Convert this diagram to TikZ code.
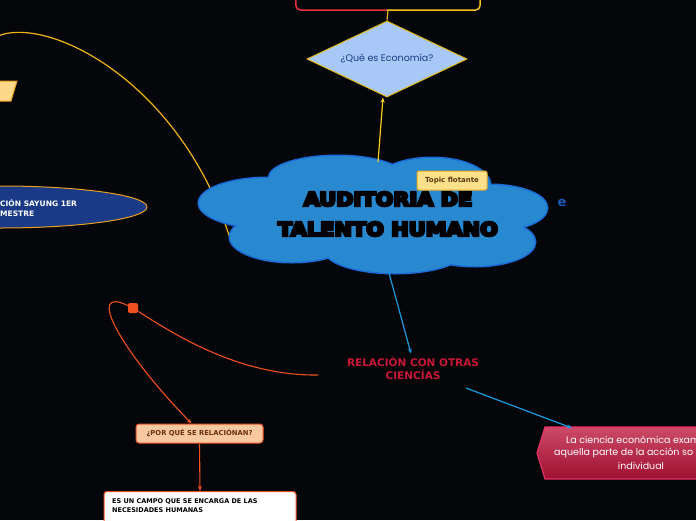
\documentclass[tikz,border=0pt]{standalone}
\usepackage{fontspec}
\setmainfont{DejaVu Sans}
\newfontfamily\geofont{Poppins}
\newfontfamily\titlefont[UprightFont=* Bold,FakeBold=12]{DejaVu Sans}
\usetikzlibrary{shapes.geometric,arrows.meta}
\definecolor{bgcol}{HTML}{050609}
\definecolor{cloudfill}{HTML}{2888D0}
\definecolor{cloudline}{HTML}{1A6AD8}
\definecolor{diafill}{HTML}{A8C8F8}
\definecolor{diaborder}{HTML}{E0B820}
\definecolor{diatext}{HTML}{1A3A8A}
\definecolor{topred}{HTML}{E83040}
\definecolor{topyellow}{HTML}{F0C020}
\definecolor{goldline}{HTML}{F0B418}
\definecolor{yellowarrow}{HTML}{F8D020}
\definecolor{semfill}{HTML}{1A3A88}
\definecolor{semborder}{HTML}{E8A020}
\definecolor{trapfill}{HTML}{FDD88A}
\definecolor{topicfill}{HTML}{FDE08A}
\definecolor{topicborder}{HTML}{E8A820}
\definecolor{topictext}{HTML}{5A3A10}
\definecolor{ecol}{HTML}{1A5AB8}
\definecolor{relcol}{HTML}{C81838}
\definecolor{bluearr}{HTML}{1A9AE0}
\definecolor{ecotop}{HTML}{CC4A68}
\definecolor{ecobot}{HTML}{A01030}
\definecolor{ecoborder}{HTML}{E83068}
\definecolor{orline}{HTML}{F05020}
\definecolor{whyfill}{HTML}{F8C8A0}
\definecolor{whytext}{HTML}{6A3010}

\begin{document}
\begin{tikzpicture}[x=1pt,y=-1pt,
  tip/.style={-{Stealth[length=5pt,width=4pt]}},
  bluearrow/.style={draw=bluearr,line width=1.2,tip},
  orarrow/.style={draw=orline,line width=1.1},
  labelfont/.style={font=\bfseries\fontsize{#1}{#1}\selectfont},
  titlestyle/.style={align=center,font=\titlefont\fontsize{19}{30}\selectfont,text=black}]
\useasboundingbox (0,0) rectangle (696,520);
\fill[bgcol] (0,0) rectangle (696,520);

\node[minimum width=184,minimum height=30,inner sep=0] (top) at (388,-5) {};
\begin{scope}
\clip (280,-40) rectangle (387,30);
\draw[topred,line width=1.5,rounded corners=5] (top.south west) rectangle (top.north east);
\end{scope}
\begin{scope}
\clip (387,-40) rectangle (500,30);
\draw[topyellow,line width=1.5,rounded corners=5] (top.south west) rectangle (top.north east);
\end{scope}

\node[diamond,aspect=2,draw=diaborder,fill=diafill,line width=1,minimum width=160,minimum height=76,inner sep=0,
  font=\geofont\fontsize{9.5}{11}\selectfont,text=diatext] (econ) at (387,59) {¿Qué es Economía?};
\draw[goldline,line width=1.2] (top.south) -- (econ.north);

\draw[goldline,line width=1.2] (-2,36) .. controls (50,15) and (185,85) .. (232,245);

\foreach \cx/\cy/\rx/\ry in {268/203/69/25,337/178/68/22,432/185/58/27,490/208/57/23,475/242/60/24,395/250/70/23,292/237/62/25,380/213/150/40}
  \draw[cloudline,line width=3] (\cx,\cy) ellipse [x radius=\rx,y radius=\ry];
\foreach \cx/\cy/\rx/\ry in {268/203/69/25,337/178/68/22,432/185/58/27,490/208/57/23,475/242/60/24,395/250/70/23,292/237/62/25,380/213/150/40}
  \fill[cloudfill] (\cx,\cy) ellipse [x radius=\rx,y radius=\ry];
\coordinate (cloudtop) at (378,162);
\coordinate (cloudbot) at (389,273);
\node[titlestyle] (auth) at (388,214) {\scalebox{1.1}[1]{AUDITORIA DE}\\\scalebox{1.1}[1]{TALENTO HUMANO}};

\draw[yellowarrow,line width=1.2,tip] (cloudtop) -- ([xshift=-4]econ.south);

\node[rounded corners=2,draw=topicborder,fill=topicfill,line width=1,minimum width=70,minimum height=19,inner sep=0,
  labelfont=7,text=topictext] (flot) at (452,180.5) {Topic flotante};
\node[labelfont=13,text=ecol] (emark) at (562,203) {e};

\node[ellipse,draw=semborder,fill=semfill,line width=1,minimum width=294,minimum height=42,inner sep=0] (sem) at (0,207) {};
\node[anchor=west,align=left,inner sep=0,font=\bfseries\fontsize{7.5}{10}\selectfont,text=white] (semtxt) at (0,208) {CIÓN SAYUNG 1ER\\MESTRE};
\filldraw[fill=trapfill,draw=semborder,line width=1] (-20,81) -- (17,81) -- (11,101) -- (-20,101) -- cycle;

\node[align=center,font=\bfseries\fontsize{10.5}{13}\selectfont,text=relcol] (rel) at (413,368.5) {RELACIÓN CON OTRAS\\CIENCÍAS};
\draw[bluearrow] (cloudbot) -- ([xshift=-2]rel.north);
\coordinate (relout) at (466,388);
\coordinate (relin) at (318,375);

\shade[top color=ecotop,bottom color=ecobot] (545,427) -- (700,427) -- (700,479) -- (545,479) -- (537,453) -- cycle;
\draw[ecoborder,line width=1.2] (700,427) -- (545,427) -- (537,453) -- (545,479) -- (700,479);
\coordinate (ecoin) at (572,428);
\draw[bluearrow] (relout) -- (ecoin);
\node[anchor=west,inner sep=0,font=\geofont\fontsize{9.5}{11}\selectfont,text=white] (eco1) at (566,440) {La ciencia económica exam};
\node[anchor=west,inner sep=0,font=\geofont\fontsize{9.5}{11}\selectfont,text=white] (eco2) at (554,453) {aquella parte de la acción so};
\node[inner sep=0,font=\geofont\fontsize{9.5}{11}\selectfont,text=white] (eco3) at (641,466) {individual};

\node[rounded corners=2,fill=orline,minimum size=10,inner sep=0] (hnd) at (133,308) {};
\node[rounded corners=3,draw=orline,fill=whyfill,line width=1,minimum width=127,minimum height=19,inner sep=0,
  labelfont=6.8,text=whytext] (why) at (199.5,433.5) {¿POR QUÉ SE RELACIÓNAN?};
\draw[orarrow] (relin) .. controls (240,376) and (175,335) .. (hnd);
\draw[orarrow,tip] (hnd) .. controls (85,285) and (120,350) .. ([xshift=-8]why.north);

\node[anchor=north,rounded corners=3,draw=orline,fill=white,line width=1,minimum width=192,minimum height=40,inner sep=0] (campo) at (200,491) {};
\draw[orarrow,tip] (why.south) -- (campo.north);
\node[anchor=north west,align=left,inner sep=0,font=\bfseries\fontsize{6.5}{9}\selectfont,text=black] (campotxt) at (112,498) {ES UN CAMPO QUE SE ENCARGA DE LAS\\NECESIDADES HUMANAS};
\end{tikzpicture}
\end{document}
